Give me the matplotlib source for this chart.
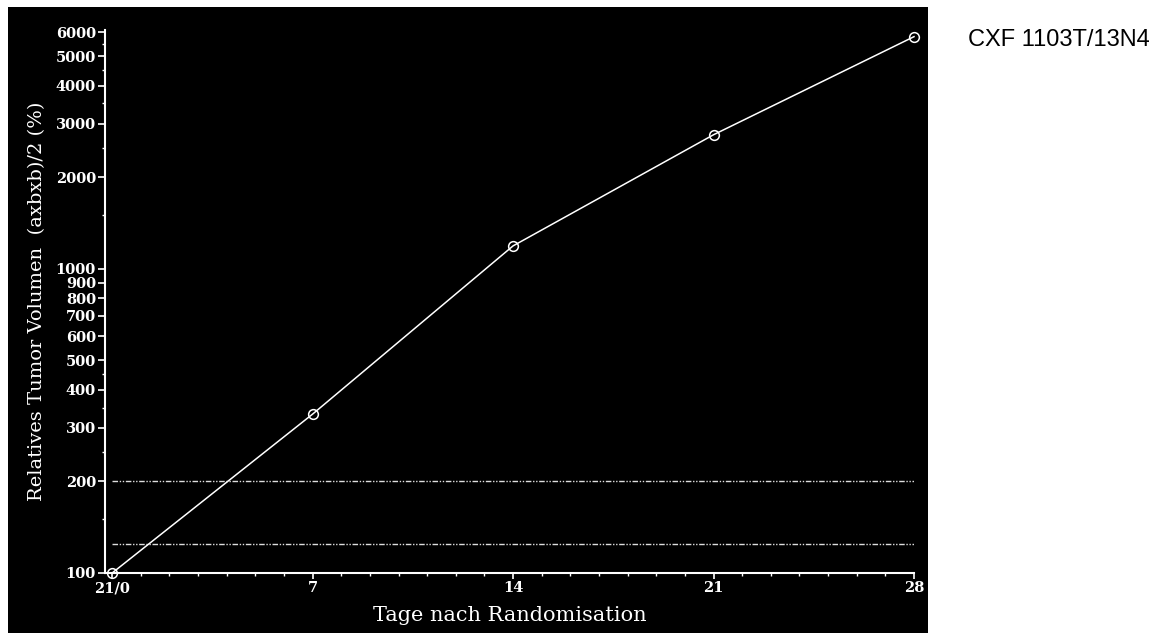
import matplotlib.pyplot as plt
from matplotlib.patches import Rectangle
from matplotlib.ticker import FixedLocator, NullFormatter

# tumour growth, relative volume in % of day 0
days = [0, 7, 14, 21, 28]
rel_volume = [100, 333, 1190, 2760, 5800]

# reference levels
ref_levels = [200, 125]

x_ticks = [0, 7, 14, 21, 28]
x_ticklabels = ['21/0', '7', '14', '21', '28']
y_ticks = [100, 200, 300, 400, 500, 600, 700, 800, 900, 1000,
           2000, 3000, 4000, 5000, 6000]
y_minor = [150, 250, 350, 450, 1500, 2500, 3500, 4500, 5500]

W, H = 1174, 635
fig = plt.figure(figsize=(W / 100, H / 100), dpi=100)
fig.patch.set_facecolor('white')

# black panel behind the plot
fig.patches.append(Rectangle((8 / W, 1 - 633 / H), 920 / W, 626 / H,
                             transform=fig.transFigure, facecolor='black',
                             edgecolor='none', zorder=-5))

ax = fig.add_axes([105 / W, 1 - 573 / H, (914 - 105) / W, (573 - 30) / H])
ax.set_zorder(2)
ax.set_facecolor('black')
ax.set_yscale('log')
ax.set_xlim(-0.25, 28)
ax.set_ylim(100, 6100)

fg = 'white'
serif = 'DejaVu Serif'

for lvl in ref_levels:
    ax.plot([0, 28], [lvl, lvl], color='#dddddd', lw=1.0,
            linestyle=(0, (4, 1.2, 1, 1.2, 1, 1.2)))

ax.plot(days, rel_volume, color=fg, lw=1.1, marker='o', markersize=7,
        markerfacecolor='none', markeredgecolor=fg, markeredgewidth=1.1,
        clip_on=False, zorder=5)

for side in ['top', 'right']:
    ax.spines[side].set_visible(False)
for side in ['left', 'bottom']:
    ax.spines[side].set_color(fg)
    ax.spines[side].set_linewidth(1.5)

ax.yaxis.set_major_locator(FixedLocator(y_ticks))
ax.yaxis.set_minor_locator(FixedLocator(y_minor))
ax.yaxis.set_minor_formatter(NullFormatter())
ax.set_yticklabels([str(v) for v in y_ticks])
ax.set_xticks(x_ticks)
ax.set_xticklabels(x_ticklabels)
ax.xaxis.set_minor_locator(FixedLocator(range(0, 29)))

ax.tick_params(axis='both', which='major', colors=fg, labelcolor=fg,
               width=1.2, labelsize=10.5)
ax.tick_params(axis='y', which='major', length=5, pad=1.5)
ax.tick_params(axis='x', which='major', length=4, pad=2)
ax.tick_params(axis='y', which='minor', colors=fg, length=2.5, width=1)
ax.tick_params(axis='x', which='minor', colors=fg, length=2.5, width=1)
for lab in ax.get_xticklabels() + ax.get_yticklabels():
    lab.set_family(serif)
    lab.set_fontweight('bold')

ax.set_xlabel('Tage nach Randomisation', color=fg, family=serif,
              fontsize=15, labelpad=8)
ax.set_ylabel('Relatives Tumor Volumen  (axbxb)/2 (%)', color=fg,
              family=serif, fontsize=14, labelpad=7)

fig.text(968 / W, 1 - 40 / H, 'CXF 1103T/13N4', family='Liberation Sans',
         fontsize=17, color='black', va='center', ha='left')

fig.savefig('out.png', dpi=100, facecolor='white')
